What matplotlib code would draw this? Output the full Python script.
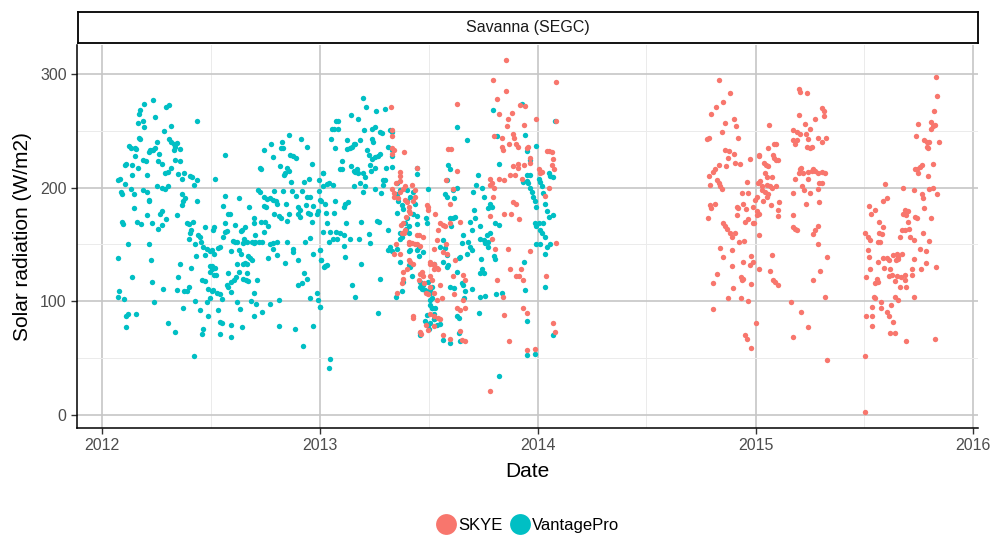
import numpy as np
import matplotlib
matplotlib.use("Agg")
import matplotlib.pyplot as plt
import matplotlib.dates as mdates
from matplotlib.lines import Line2D

# (days since 2012-01-01, solar radiation W/m2)
vantage_2012a = [
    (85, 277), (71, 274), (64, 268), (62, 265), (60, 257), (68, 259), (71, 253), (89, 262), (107, 271), (113, 273),
    (159, 259), (104, 250), (115, 254), (62, 244), (64, 243), (46, 237), (48, 235), (55, 235), (57, 234), (55, 228),
    (92, 240), (86, 233), (80, 233), (78, 231), (84, 233), (89, 235), (96, 230), (113, 243), (116, 240), (120, 238),
    (122, 236), (125, 239), (131, 234), (121, 233), (39, 220), (41, 221), (50, 220), (60, 217), (68, 224), (73, 223),
    (94, 223), (101, 221), (131, 223), (122, 224), (116, 217), (111, 214), (106, 213), (127, 212), (137, 213), (148, 210),
    (151, 209), (159, 207), (154, 202), (134, 208), (27, 207), (30, 208), (38, 203), (31, 196), (33, 194), (48, 199),
    (53, 194), (68, 198), (75, 196), (78, 189), (79, 188), (93, 201), (100, 200), (106, 199), (111, 201), (134, 194),
    (139, 191), (136, 188), (134, 185), (160, 188), (75, 211), (51, 211), (53, 182), (33, 170), (35, 168), (58, 170),
    (65, 168), (83, 169), (97, 177), (100, 179), (75, 176), (108, 172), (100, 167), (94, 164), (125, 176), (142, 169),
    (152, 170), (145, 168), (149, 163), (148, 160), (161, 158), (173, 165), (186, 163), (146, 155), (156, 150), (164, 157),
    (166, 152), (170, 148), (176, 146), (181, 144), (44, 150), (27, 138), (51, 121), (79, 150), (82, 136), (84, 117),
    (103, 111), (87, 99), (128, 121), (131, 133), (150, 129), (126, 110), (137, 109), (143, 109), (145, 113), (135, 94),
    (156, 100), (164, 92), (167, 119), (173, 118), (178, 111), (181, 103), (176, 99), (178, 87), (186, 110), (158, 140),
    (173, 141), (181, 131), (184, 128), (187, 123), (29, 109), (27, 104), (37, 102), (41, 87), (44, 89), (41, 77),
    (57, 89), (111, 81), (122, 73), (167, 71), (170, 76), (155, 52),
]
vantage_2012b = [
    (313, 246), (333, 243), (301, 240), (303, 235), (300, 235), (283, 238), (271, 233), (206, 229), (344, 236), (287, 227),
    (315, 229), (320, 228), (325, 226), (352, 221), (298, 219), (310, 217), (313, 215), (307, 213), (305, 211), (265, 217),
    (267, 216), (190, 208), (370, 213), (364, 207), (347, 208), (338, 205), (317, 205), (261, 198), (265, 196), (289, 197),
    (304, 197), (318, 197), (326, 193), (335, 197), (343, 192), (349, 192), (364, 197), (371, 201), (207, 193), (229, 191),
    (203, 184), (212, 177), (215, 177), (247, 183), (272, 192), (276, 190), (281, 191), (287, 189), (291, 188), (293, 186),
    (272, 184), (275, 183), (289, 177), (296, 175), (300, 173), (309, 186), (313, 177), (310, 171), (329, 183), (332, 180),
    (328, 177), (332, 174), (342, 185), (346, 178), (349, 177), (352, 170), (354, 184), (360, 177), (363, 179), (368, 188),
    (206, 169), (223, 167), (240, 165), (234, 163), (254, 169), (255, 173), (267, 170), (273, 170), (279, 166), (271, 161),
    (257, 158), (187, 165), (206, 161), (209, 162), (203, 157), (233, 162), (243, 152), (220, 153), (223, 152), (226, 152),
    (238, 155), (236, 151), (251, 152), (254, 151), (257, 152), (264, 152), (268, 152), (281, 150), (287, 151), (293, 152),
    (311, 152), (321, 146), (320, 143), (329, 136), (340, 152), (349, 156), (354, 142), (366, 145), (368, 136), (373, 130),
    (198, 148), (195, 147), (184, 145), (187, 142), (217, 144), (230, 145), (233, 142), (227, 133), (237, 133), (240, 134),
    (243, 133), (245, 140), (248, 138), (251, 136), (279, 138), (287, 146), (293, 141), (307, 134), (184, 131), (190, 129),
    (191, 123), (181, 126), (212, 125), (216, 117), (221, 119), (225, 121), (229, 126), (243, 125), (237, 120), (241, 119),
    (244, 118), (260, 119), (209, 114), (212, 113), (216, 108), (202, 102), (192, 107), (184, 109), (198, 106), (226, 99),
    (231, 93), (249, 100), (254, 107), (258, 98), (268, 91), (255, 87), (282, 98), (297, 101), (329, 114), (335, 116),
    (338, 125), (343, 120), (348, 103), (360, 107), (363, 101), (366, 95), (194, 92), (198, 82), (202, 81), (217, 79),
    (235, 77), (198, 71), (216, 69), (296, 78), (324, 76), (353, 78), (337, 61),
]
vantage_2013a = [
    (437, 279), (443, 271), (460, 267), (474, 269), (418, 264), (430, 260), (396, 259), (392, 259), (385, 252), (389, 252),
    (395, 252), (440, 251), (452, 252), (458, 253), (466, 249), (470, 248), (483, 251), (486, 249), (384, 243), (391, 235),
    (410, 242), (423, 238), (432, 242), (452, 243), (455, 240), (410, 234), (416, 235), (419, 236), (424, 238), (444, 233),
    (448, 229), (458, 227), (463, 228), (466, 230), (452, 225), (480, 236), (486, 233), (487, 228), (402, 223), (399, 216),
    (402, 216), (418, 219), (422, 215), (424, 214), (427, 216), (430, 213), (437, 213), (441, 209), (449, 220), (451, 215),
    (458, 217), (477, 217), (486, 218), (370, 213), (377, 203), (381, 204), (387, 202), (422, 201), (433, 204), (438, 196),
    (441, 201), (472, 207), (475, 207), (472, 202), (467, 195), (458, 199), (366, 189), (374, 186), (376, 178), (391, 188),
    (389, 178), (406, 183), (408, 186), (413, 187), (377, 169), (382, 161), (371, 161), (392, 161), (399, 160), (406, 158),
    (394, 155), (388, 155), (380, 152), (409, 169), (435, 170), (461, 171), (465, 170), (480, 163), (447, 159), (449, 151),
    (431, 155), (415, 155), (406, 149), (408, 139), (366, 145), (368, 136), (374, 131), (377, 132), (434, 133), (466, 120),
    (420, 114), (424, 104), (463, 90), (366, 95), (382, 49), (381, 41), (495, 204), (500, 198), (494, 194), (497, 188),
    (495, 178), (503, 185), (505, 181), (511, 198), (512, 188), (517, 192), (522, 196), (525, 186), (521, 177), (511, 173),
    (508, 169), (510, 164), (514, 166), (500, 160), (503, 157), (514, 160), (528, 168), (528, 175), (529, 212), (529, 217),
    (546, 199), (543, 173), (545, 169), (499, 155), (495, 146), (483, 148), (480, 145), (486, 144), (500, 135), (515, 144),
    (517, 145), (528, 145), (531, 148), (532, 140), (539, 143), (514, 132), (517, 130), (519, 122), (505, 117), (503, 109),
    (493, 104), (533, 117), (536, 111), (539, 114), (542, 110), (533, 113), (547, 117), (550, 110), (553, 113), (550, 101),
    (550, 97), (553, 94), (556, 89), (556, 84), (545, 88), (542, 83), (547, 79), (549, 76), (534, 70), (533, 72),
    (556, 133),
]
vantage_2013b = [
    (704, 274), (656, 268), (595, 253), (612, 242), (662, 245), (665, 221), (709, 246), (712, 232), (728, 237), (717, 224),
    (581, 220), (583, 216), (578, 207), (575, 194), (578, 192), (589, 198), (590, 191), (595, 200), (584, 173), (589, 173),
    (586, 166), (592, 174), (572, 154), (575, 147), (567, 148), (578, 141), (631, 211), (622, 196), (627, 202), (637, 200),
    (640, 192), (651, 186), (654, 183), (648, 182), (623, 180), (626, 173), (617, 170), (620, 163), (634, 166), (634, 155),
    (640, 154), (645, 158), (651, 160), (659, 169), (665, 167), (648, 152), (642, 151), (648, 148), (614, 152), (617, 148),
    (620, 145), (612, 142), (600, 139), (598, 138), (606, 158), (603, 151), (581, 132), (578, 130), (572, 135), (595, 126),
    (584, 113), (590, 112), (603, 116), (606, 114), (609, 109), (607, 103), (620, 111), (637, 128), (634, 125), (640, 125),
    (634, 104), (642, 105), (660, 106), (670, 107), (636, 137), (657, 140), (659, 137), (707, 135), (709, 110), (713, 83),
    (633, 90), (599, 72), (600, 65), (584, 63), (572, 66), (550, 107), (553, 103), (558, 94), (556, 84), (561, 79),
    (567, 80), (550, 81), (553, 94), (595, 87), (598, 85), (665, 34), (712, 53), (726, 54), (712, 206), (715, 204),
    (718, 200), (721, 196), (723, 192), (726, 188), (728, 183), (732, 208), (735, 205), (737, 201), (740, 195), (743, 186),
    (746, 179), (749, 174), (740, 169), (735, 163), (737, 160), (743, 157), (743, 142), (735, 150), (728, 150), (732, 169),
    (726, 169), (728, 166), (749, 213), (752, 210), (757, 209), (718, 211), (713, 211), (706, 205), (757, 176), (746, 148),
    (752, 150), (760, 259), (743, 113), (757, 70),
]

skye_2013a = [
    (484, 271), (486, 251), (487, 245), (487, 235), (490, 233), (486, 230), (506, 231), (500, 214), (500, 210), (500, 206),
    (493, 204), (487, 199), (489, 195), (490, 192), (497, 191), (500, 196), (504, 199), (508, 201), (519, 202), (524, 198),
    (525, 192), (521, 188), (529, 217), (508, 189), (512, 187), (514, 183), (515, 179), (517, 178), (545, 185), (547, 183),
    (546, 180), (558, 177), (510, 174), (505, 169), (501, 167), (503, 160), (506, 160), (508, 163), (529, 158), (532, 158),
    (539, 157), (557, 146), (514, 152), (515, 150), (519, 151), (525, 150), (529, 150), (533, 149), (493, 150), (500, 142),
    (489, 142), (505, 126), (511, 128), (504, 120), (503, 116), (494, 107), (514, 136), (517, 135), (522, 133), (531, 119),
    (533, 124), (536, 126), (539, 122), (540, 116), (543, 107), (550, 133), (556, 132), (556, 128), (553, 119), (547, 106),
    (521, 87), (522, 85), (543, 79), (546, 75), (533, 73), (535, 71), (556, 78),
]
skye_2013b = [
    (678, 312), (655, 295), (678, 285), (595, 274), (663, 278), (666, 265), (687, 266), (681, 260), (701, 273), (709, 272),
    (728, 260), (761, 293), (761, 259), (679, 254), (657, 245), (670, 244), (689, 247), (691, 244), (707, 255), (581, 234),
    (585, 234), (577, 207), (595, 215), (589, 199), (584, 186), (670, 236), (673, 233), (683, 238), (695, 238), (698, 236),
    (712, 235), (715, 236), (718, 226), (707, 220), (690, 219), (698, 221), (697, 217), (684, 211), (666, 208), (674, 207),
    (693, 211), (704, 208), (717, 222), (732, 216), (735, 213), (737, 214), (746, 232), (749, 232), (754, 231), (757, 225),
    (754, 220), (758, 216), (749, 200), (743, 193), (651, 208), (654, 204), (657, 200), (651, 202), (656, 192), (651, 175),
    (674, 177), (685, 177), (690, 187), (694, 186), (700, 172), (567, 169), (572, 167), (575, 166), (564, 163), (561, 154),
    (584, 169), (600, 170), (577, 150), (572, 143), (578, 142), (550, 135), (556, 133), (562, 129), (564, 128), (550, 122),
    (589, 122), (592, 136), (606, 123), (609, 119), (684, 128), (702, 128), (700, 122), (706, 119), (695, 122), (717, 144),
    (662, 119), (673, 104), (550, 113), (556, 107), (567, 114), (570, 103), (561, 101), (590, 106), (595, 94), (609, 94),
    (600, 92), (606, 101), (550, 89), (556, 87), (564, 85), (567, 84), (572, 70), (584, 67), (600, 74), (603, 66),
    (609, 65), (706, 94), (713, 90), (674, 88), (683, 65), (712, 57), (726, 58), (756, 81), (760, 73), (745, 122),
    (761, 151), (650, 21), (654, 155), (659, 146), (680, 146),
]
skye_2014 = [
    (1035, 295), (1053, 283), (1042, 275), (1030, 271), (1022, 265), (1045, 257), (1059, 260), (1063, 254), (1039, 249), (1018, 244),
    (1015, 243), (1067, 244), (1045, 233), (1052, 232), (1059, 230), (1050, 226), (1046, 219), (1061, 222), (1070, 221), (1086, 225),
    (1034, 220), (1028, 216), (1025, 214), (1018, 210), (1031, 207), (1034, 204), (1020, 202), (1037, 201), (1039, 199), (1028, 186),
    (1020, 185), (1022, 182), (1017, 173), (1042, 169), (1045, 166), (1048, 164), (1053, 160), (1056, 157), (1061, 160), (1081, 205),
    (1073, 195), (1084, 195), (1064, 183), (1067, 182), (1075, 186), (1080, 181), (1064, 176), (1078, 170), (1084, 172), (1091, 169),
    (1093, 169), (1069, 152), (1077, 153), (1037, 147), (1041, 139), (1056, 145), (1056, 131), (1075, 135), (1089, 140), (1091, 135),
    (1087, 132), (1031, 124), (1024, 116), (1071, 121), (1073, 119), (1075, 120), (1058, 112), (1049, 103), (1071, 103), (1083, 100),
    (1088, 115), (1025, 93), (1097, 81), (1078, 70), (1081, 67), (1088, 59), (1102, 228), (1117, 235), (1127, 238), (1130, 238),
    (1125, 229), (1127, 226), (1130, 224), (1134, 224), (1110, 222), (1113, 220), (1117, 219), (1112, 213), (1115, 209), (1123, 209),
    (1103, 206), (1100, 204), (1106, 201), (1115, 202), (1120, 201), (1123, 200), (1131, 201), (1106, 198), (1112, 196), (1117, 194),
    (1115, 192), (1098, 192), (1095, 189), (1108, 188), (1092, 183), (1099, 179), (1102, 177), (1098, 176), (1122, 185), (1136, 187),
    (1134, 180), (1133, 175), (1101, 158), (1123, 141), (1102, 128), (1120, 127), (1126, 119), (1129, 117), (1133, 114), (1119, 255),
    (1102, 229), (1169, 287), (1171, 284), (1183, 283), (1169, 264), (1179, 256), (1187, 252), (1196, 260), (1208, 270), (1211, 267),
    (1210, 263), (1200, 244), (1214, 244), (1207, 240), (1158, 251), (1165, 249), (1159, 242), (1162, 238), (1171, 247), (1181, 247),
    (1184, 243), (1187, 235), (1182, 236), (1190, 236), (1165, 242), (1171, 216), (1173, 217), (1168, 213), (1175, 213), (1184, 214),
    (1190, 215), (1196, 215), (1200, 213), (1207, 214), (1212, 213), (1193, 216), (1162, 208), (1184, 208), (1174, 201), (1177, 198),
    (1187, 195), (1203, 204), (1201, 199), (1159, 195), (1181, 186), (1203, 187), (1158, 176), (1159, 165), (1165, 163), (1162, 164),
    (1192, 159), (1196, 163), (1201, 166), (1200, 150), (1215, 139), (1204, 127), (1193, 119), (1212, 104), (1155, 99), (1173, 91),
    (1184, 77), (1159, 69), (1215, 48), (1207, 204),
]
skye_2015 = [
    (1399, 297), (1401, 281), (1396, 267), (1369, 256), (1391, 258), (1394, 254), (1397, 255), (1390, 252), (1365, 245), (1379, 242),
    (1383, 240), (1387, 240), (1403, 240), (1383, 236), (1385, 235), (1394, 221), (1375, 220), (1372, 218), (1366, 216), (1363, 216),
    (1369, 213), (1385, 210), (1313, 203), (1344, 200), (1361, 198), (1386, 199), (1393, 200), (1400, 194), (1375, 194), (1377, 191),
    (1317, 191), (1309, 188), (1296, 180), (1290, 177), (1347, 180), (1352, 179), (1344, 177), (1349, 176), (1363, 174), (1366, 173),
    (1379, 182), (1390, 173), (1303, 170), (1310, 165), (1351, 170), (1347, 163), (1342, 163), (1354, 164), (1280, 160), (1284, 157),
    (1288, 154), (1303, 160), (1308, 159), (1301, 152), (1305, 152), (1338, 157), (1355, 157), (1361, 154), (1377, 160), (1386, 153),
    (1285, 145), (1286, 139), (1372, 146), (1381, 144), (1399, 130), (1302, 135), (1310, 138), (1316, 138), (1319, 136), (1327, 141),
    (1333, 142), (1335, 139), (1341, 142), (1331, 136), (1335, 137), (1361, 137), (1381, 134), (1374, 128), (1282, 121), (1288, 128),
    (1299, 120), (1296, 116), (1301, 117), (1312, 129), (1322, 128), (1324, 123), (1319, 122), (1329, 118), (1333, 122), (1346, 123),
    (1340, 121), (1347, 119), (1358, 123), (1359, 128), (1338, 113), (1349, 113), (1294, 104), (1296, 103), (1306, 99), (1291, 95),
    (1282, 87), (1292, 87), (1306, 94), (1316, 91), (1319, 87), (1323, 97), (1330, 104), (1334, 101), (1362, 104), (1327, 82),
    (1291, 78), (1322, 72), (1329, 72), (1348, 65), (1397, 67), (1280, 52), (1280, 3), (1287, 184),
]

SKYE_COLOR = "#F8766D"
VANTAGE_COLOR = "#00BFC4"
ORIGIN = np.datetime64("2012-01-01")


def to_series(*segments):
    pts = [p for seg in segments for p in seg]
    days = np.array([p[0] for p in pts]).astype("timedelta64[D]")
    vals = np.array([p[1] for p in pts], dtype=float)
    return ORIGIN + days, vals


plt.rcParams["font.family"] = ["Liberation Sans", "DejaVu Sans"]

skye_x, skye_y = to_series(skye_2013a, skye_2013b, skye_2014, skye_2015)
vp_x, vp_y = to_series(vantage_2012a, vantage_2012b, vantage_2013a, vantage_2013b)

fig = plt.figure(figsize=(9.92, 5.38), dpi=100)
ax = fig.add_axes([77 / 992, 110 / 538, 901 / 992, 383 / 538])

ax.scatter(vp_x, vp_y, s=15, color=VANTAGE_COLOR, linewidths=0, zorder=3)
ax.scatter(skye_x, skye_y, s=15, color=SKYE_COLOR, linewidths=0, zorder=3)

ax.set_xlim(np.datetime64("2011-11-20"), np.datetime64("2016-01-09"))
ax.set_ylim(-11.5, 325.5)
ax.xaxis.set_major_locator(mdates.YearLocator())
ax.xaxis.set_major_formatter(mdates.DateFormatter("%Y"))
ax.xaxis.set_minor_locator(mdates.MonthLocator(bymonth=7, bymonthday=2))
ax.set_yticks([0, 100, 200, 300])
ax.set_yticks([50, 150, 250], minor=True)

ax.set_axisbelow(True)
ax.grid(which="major", color="#c6c6c6", linewidth=1.2)
ax.grid(which="minor", color="#ebebeb", linewidth=0.7)
for side in ("top", "right"):
    ax.spines[side].set_visible(False)
for side in ("left", "bottom"):
    ax.spines[side].set_color("black")
    ax.spines[side].set_linewidth(1.1)
ax.tick_params(which="major", length=4, width=1, color="#333333",
               labelcolor="#4d4d4d", labelsize=11.5)
ax.tick_params(which="minor", length=0)

ax.set_xlabel("Date", fontsize=15, color="black", labelpad=6)
ax.set_ylabel("Solar radiation (W/m2)", fontsize=15, color="black", labelpad=6)

# facet strip
strip = fig.add_axes([78 / 992, (538 - 43) / 538, 900 / 992, 31 / 538])
strip.set_xticks([])
strip.set_yticks([])
for sp in strip.spines.values():
    sp.set_linewidth(1.3)
    sp.set_color("black")
strip.text(0.5, 0.5, "Savanna (SEGC)", ha="center", va="center",
           fontsize=11.5, color="#1a1a1a", transform=strip.transAxes)

handles = [
    Line2D([], [], marker="o", linestyle="none", markersize=15,
           markerfacecolor=SKYE_COLOR, markeredgewidth=0, label="SKYE"),
    Line2D([], [], marker="o", linestyle="none", markersize=15,
           markerfacecolor=VANTAGE_COLOR, markeredgewidth=0, label="VantagePro"),
]
fig.legend(handles=handles, loc="center", bbox_to_anchor=(0.532, 0.024),
           ncol=2, frameon=False, fontsize=12, handletextpad=0.15,
           columnspacing=0.4, handlelength=1.2)

fig.savefig("out.png", dpi=100)
